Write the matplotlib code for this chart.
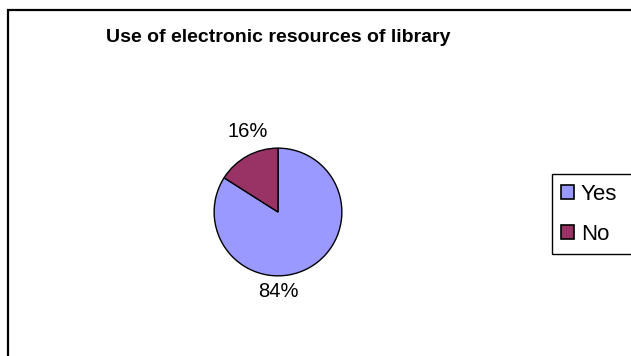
import matplotlib.pyplot as plt
from matplotlib.patches import Rectangle, Patch

labels = ['Yes', 'No']
shares = [84, 16]
colors = ['#9999FF', '#993366']
pct_text = ['84%', '16%']
# label positions in pie-radius units (Excel-style placement)
label_pos = [(0.0, -1.24), (-0.48, 1.26)]

plt.rcParams['font.family'] = ['Liberation Sans', 'DejaVu Sans']

W, H = 631, 356
fig = plt.figure(figsize=(W / 100, H / 100), dpi=100)
fig.patch.set_facecolor('white')

# outer chart border (clipped at right and bottom as in the original)
fig.add_artist(Rectangle((7.5 / W, -0.2), 2.0, (H - 10.5) / H + 0.2,
                         transform=fig.transFigure, fill=False,
                         edgecolor='black', linewidth=1.6))

fig.text(278 / W, 1 - 38 / H, 'Use of electronic resources of library',
         ha='center', va='center', fontsize=14, fontweight='bold')

cx, cy, r = 278, 212, 64.5
ax = fig.add_axes([(cx - r) / W, (H - cy - r) / H, 2 * r / W, 2 * r / H])
ax.pie(shares, colors=colors, startangle=90, counterclock=False, radius=1,
       wedgeprops=dict(edgecolor='black', linewidth=1.0))
ax.set_xlim(-1.01, 1.01)
ax.set_ylim(-1.01, 1.01)
ax.set_aspect('equal')
ax.axis('off')

for txt, (px, py) in zip(pct_text, label_pos):
    ax.text(px, py, txt, ha='center', va='center', fontsize=14.5, clip_on=False)

# legend frame (runs off the right edge)
fig.add_artist(Rectangle((551.5 / W, 1 - 253.5 / H), 1.0, 80 / H,
                         transform=fig.transFigure, fill=False,
                         edgecolor='black', linewidth=1.0))
handles = [Patch(facecolor=c, edgecolor='black', linewidth=1.2) for c in colors]
fig.legend(handles, labels, loc='upper left', bbox_to_anchor=(561 / W, 1 - 184 / H),
           frameon=False, fontsize=16, handlelength=0.6, handleheight=0.6,
           handletextpad=0.3, labelspacing=0.85, borderpad=0, borderaxespad=0)

fig.savefig('out.png', dpi=100)
